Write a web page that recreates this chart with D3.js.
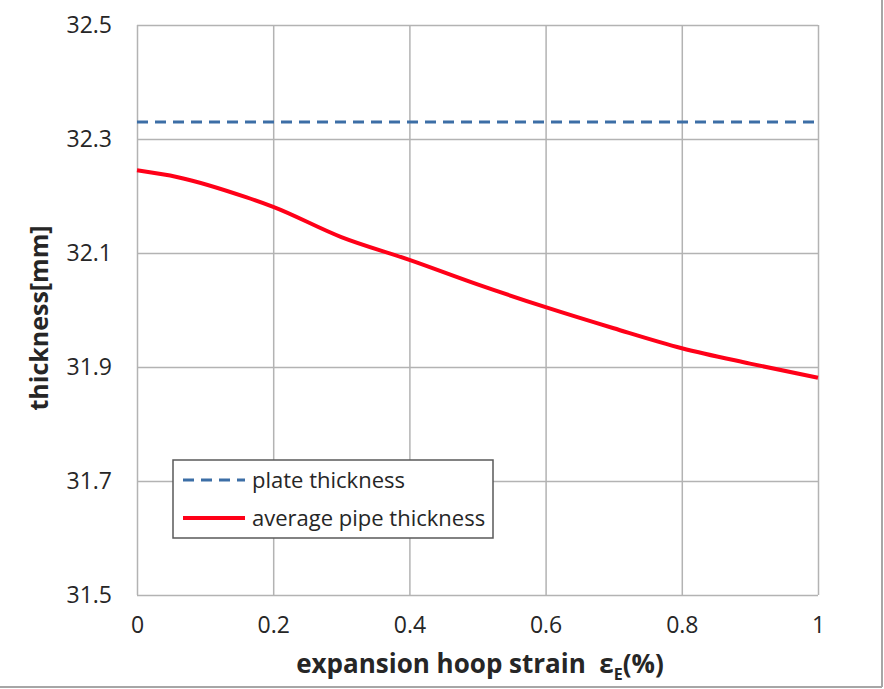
<html>
<head>
<meta charset="UTF-8">
<script src="https://d3js.org/d3.v7.min.js"></script>
<style>
  body { margin: 0; background: #fff; }
  svg text { font-family: "Open Sans", "Noto Sans", sans-serif; fill: #262626; }
</style>
</head>
<body>
<div id="chart"></div>
<script>
// strain (%) and thickness values
var strain = [0, 0.06, 0.16, 0.2, 0.3, 0.4, 0.5, 0.6, 0.7, 0.8, 0.9, 1];
var pipeThickness = [32.245, 32.233, 32.198, 32.181, 32.128, 32.088, 32.045, 32.005, 31.968, 31.933, 31.906, 31.881];
var plateThickness = 32.33;
var xTicks = [0, 0.2, 0.4, 0.6, 0.8, 1];
var yTicks = [31.5, 31.7, 31.9, 32.1, 32.3, 32.5];
var seriesNames = ["plate thickness", "average pipe thickness"];

var W = 884, H = 689;
var margin = {top: 25, right: 66, bottom: 94, left: 137},
    width = W - margin.left - margin.right,
    height = H - margin.top - margin.bottom;

var svg = d3.select("#chart").append("svg")
  .attr("width", W)
  .attr("height", H);

// outer frame (right and bottom edges visible)
svg.append("line").attr("x1", 882).attr("x2", 882).attr("y1", 0).attr("y2", 687)
  .attr("stroke", "#a6a6a6").attr("stroke-width", 2);
svg.append("line").attr("x1", 0).attr("x2", 882).attr("y1", 687).attr("y2", 687)
  .attr("stroke", "#a6a6a6").attr("stroke-width", 2);

var g = svg.append("g")
  .attr("transform", "translate(" + margin.left + "," + margin.top + ")");

var x = d3.scaleLinear().domain([0, 1]).range([0, width]);
var y = d3.scaleLinear().domain([31.5, 32.5]).range([height, 0]);

// grid
g.append("g")
  .call(d3.axisLeft(y).tickValues(yTicks).tickSize(-width).tickFormat(""))
  .call(function(s) { s.select(".domain").remove(); })
  .selectAll("line").attr("stroke", "#b3b3b3").attr("stroke-width", 1.5);
g.append("g")
  .attr("transform", "translate(0," + height + ")")
  .call(d3.axisBottom(x).tickValues(xTicks).tickSize(height).tickFormat(""))
  .call(function(s) { s.select(".domain").remove(); })
  .selectAll("line").attr("stroke", "#b3b3b3").attr("stroke-width", 1.5)
  .attr("y2", -height);

// tick labels
var yAxis = g.append("g")
  .call(d3.axisLeft(y).tickValues(yTicks).tickSize(0).tickPadding(25).tickFormat(d3.format(".1f")));
yAxis.select(".domain").remove();
yAxis.selectAll("text").style("font-size", "23px").attr("fill", "#262626");

var xAxis = g.append("g")
  .attr("transform", "translate(0," + height + ")")
  .call(d3.axisBottom(x).tickValues(xTicks).tickSize(0).tickPadding(22).tickFormat(function(d) { return d3.format("")(d); }));
xAxis.select(".domain").remove();
xAxis.selectAll("text").style("font-size", "23px").attr("fill", "#262626");

// plate thickness (dashed)
g.append("line")
  .attr("x1", x(0)).attr("x2", x(1))
  .attr("y1", y(plateThickness)).attr("y2", y(plateThickness))
  .attr("stroke", "#3c6ea6").attr("stroke-width", 3)
  .attr("stroke-dasharray", "11,7");

// average pipe thickness
var line = d3.line()
  .x(function(d, i) { return x(strain[i]); })
  .y(function(d) { return y(d); })
  .curve(d3.curveMonotoneX);
g.append("path")
  .datum(pipeThickness)
  .attr("d", line)
  .attr("fill", "none")
  .attr("stroke", "#ff0018")
  .attr("stroke-width", 4);

// legend
var legend = svg.append("g").attr("transform", "translate(173,460)");
legend.append("rect").attr("width", 320).attr("height", 78)
  .attr("fill", "#fff").attr("stroke", "#595959").attr("stroke-width", 1.5);
legend.append("line").attr("x1", 10).attr("x2", 72).attr("y1", 20).attr("y2", 20)
  .attr("stroke", "#3c6ea6").attr("stroke-width", 3).attr("stroke-dasharray", "11,7");
legend.append("line").attr("x1", 10).attr("x2", 72).attr("y1", 58).attr("y2", 58)
  .attr("stroke", "#ff0018").attr("stroke-width", 4);
legend.selectAll("text.lbl").data(seriesNames).enter().append("text")
  .attr("class", "lbl")
  .attr("x", 79).attr("y", function(d, i) { return 20 + i * 38; })
  .attr("dy", "0.35em")
  .style("font-size", "22px")
  .text(function(d) { return d; });

// axis titles
var xt = svg.append("text")
  .attr("x", 480).attr("y", 673)
  .attr("text-anchor", "middle")
  .style("font-size", "26px").style("font-weight", "bold")
  .style("white-space", "pre");
xt.append("tspan").text("expansion hoop strain  ε");
xt.append("tspan").attr("dy", 7).style("font-size", "16px").text("E");
xt.append("tspan").attr("dy", -7).text("(%)");

svg.append("text")
  .attr("transform", "translate(48," + 318 + ") rotate(-90)")
  .attr("text-anchor", "middle")
  .style("font-size", "25px").style("font-weight", "bold")
  .text("thickness[mm]");
</script>
</body>
</html>
